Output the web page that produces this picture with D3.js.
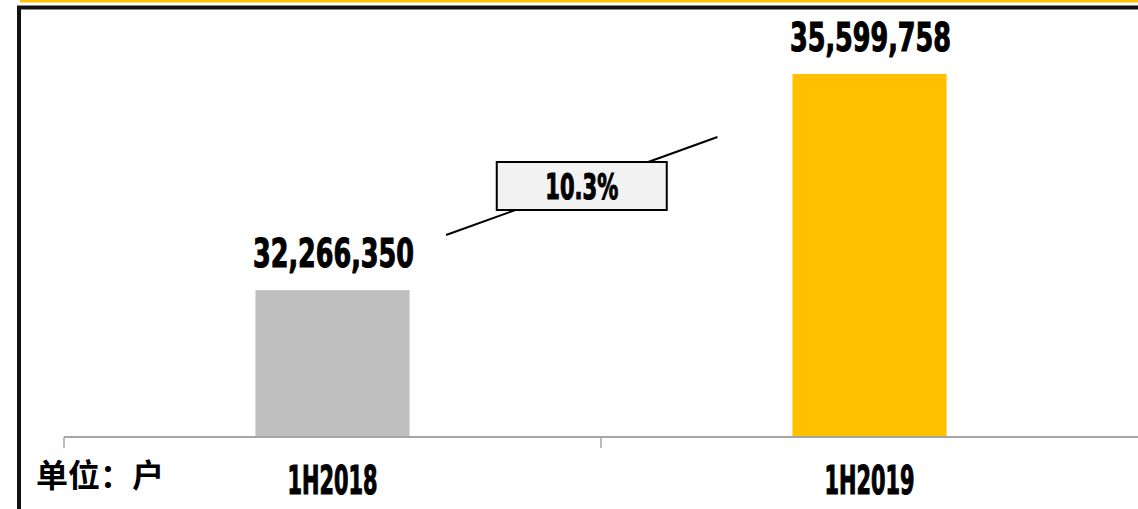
<!DOCTYPE html>
<html><head><meta charset="utf-8">
<script src="https://cdn.jsdelivr.net/npm/d3@7"></script>
<style>
html,body{margin:0;padding:0;background:#fff;overflow:hidden}
.num{font-family:"DejaVu Sans Condensed","DejaVu Sans",sans-serif;font-weight:bold;fill:#000;stroke:#000;stroke-width:1.1px;paint-order:stroke}
.cjk{font-family:"Noto Sans CJK SC",sans-serif;font-weight:bold;fill:#000}
</style></head>
<body>
<svg id="c" width="1138" height="509"></svg>
<script>
const categories = ["1H2018", "1H2019"];
const values = [32266350, 35599758];
const valueLabels = ["32,266,350", "35,599,758"];
const growthLabel = "10.3%";
const unitLabel = "单位：户";
const colors = ["#BFBFBF", "#FFC000"];

const svg = d3.select("#c");
const W = 1138, H = 509;

// top yellow rule and frame
svg.append("line").attr("x1",20).attr("x2",W).attr("y1",1).attr("y2",1)
  .attr("stroke","#FFC000").attr("stroke-width",3);
svg.append("path").attr("d",`M19,${H+5} L19,7.5 L${W+5},7.5`)
  .attr("fill","none").attr("stroke","#111").attr("stroke-width",4);

const x = d3.scaleBand().domain(categories).range([64, 1138])
  .paddingInner(0.713).paddingOuter(0.3565);
const xc = d3.scaleBand().domain(categories).range([64, 1138]).padding(0);
const y = d3.scaleLinear().domain([30000000, 36000000]).range([437, 48]);

// bars
svg.selectAll("rect.bar").data(values).enter().append("rect")
  .attr("class","bar")
  .attr("x",(d,i)=>x(categories[i]))
  .attr("width",x.bandwidth())
  .attr("y",d=>y(d))
  .attr("height",d=>y(30000000)-y(d))
  .attr("fill",(d,i)=>colors[i]);

// axis
const axisG = svg.append("g").attr("transform","translate(0,437)");
axisG.append("line").attr("x1",64).attr("x2",W).attr("y1",0).attr("y2",0)
  .attr("stroke","#A6A6A6").attr("stroke-width",2);
const tickXs = [xc.range()[0]].concat(categories.slice(1).map(c=>xc(c)));
axisG.selectAll("line.tick").data(tickXs).enter().append("line")
  .attr("class","tick").attr("x1",d=>d).attr("x2",d=>d).attr("y1",0).attr("y2",11)
  .attr("stroke","#A6A6A6").attr("stroke-width",1.5);

// category labels
svg.selectAll("text.cat").data(categories).enter().append("text")
  .attr("class","num cat")
  .attr("x",d=>x(d)+x.bandwidth()/2)
  .attr("y",494)
  .attr("text-anchor","middle")
  .attr("font-size",39)
  .attr("textLength",90).attr("lengthAdjust","spacingAndGlyphs")
  .text(d=>d);

// value labels
svg.selectAll("text.val").data(values).enter().append("text")
  .attr("class","num val")
  .attr("x",(d,i)=>x(categories[i])+x.bandwidth()/2+1)
  .attr("y",d=>y(d)-23)
  .attr("text-anchor","middle")
  .attr("font-size",39)
  .attr("textLength",161).attr("lengthAdjust","spacingAndGlyphs")
  .text((d,i)=>valueLabels[i]);

// growth connector
const x0 = x(categories[0]) + x.bandwidth() + 36.5;
const x1 = x(categories[1]) - 75;
const y0 = y(values[0]) - 55;
const y1 = y(values[1]) + 63;
svg.append("line").attr("x1",x0).attr("y1",y0).attr("x2",x1).attr("y2",y1)
  .attr("stroke","#000").attr("stroke-width",2);
const mx = (x0+x1)/2, my = (y0+y1)/2;
svg.append("rect").attr("x",mx-85).attr("y",my-24).attr("width",170).attr("height",48)
  .attr("fill","#F2F2F2").attr("stroke","#000").attr("stroke-width",2);
svg.append("text").attr("class","num")
  .attr("x",mx).attr("y",my+13)
  .attr("text-anchor","middle").attr("font-size",36)
  .attr("textLength",73).attr("lengthAdjust","spacingAndGlyphs")
  .text(growthLabel);

// unit label
svg.append("text").attr("class","cjk")
  .attr("x",36).attr("y",487).attr("font-size",32)
  .text(unitLabel);
</script>
</body></html>
